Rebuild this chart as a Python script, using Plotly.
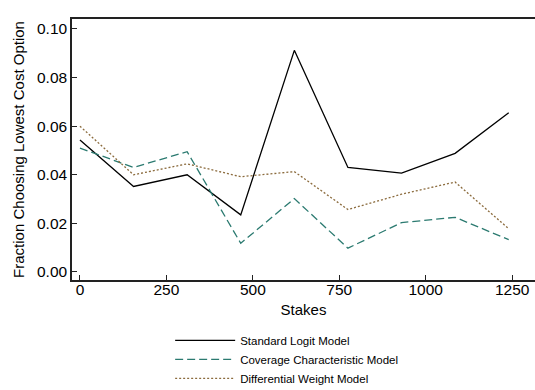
import plotly.graph_objects as go

# Stakes levels and predicted fractions choosing the lowest-cost option
stakes = [0, 155, 310, 465, 620, 775, 930, 1085, 1240]
standard_logit = [0.0543, 0.0352, 0.0400, 0.0235, 0.0912, 0.0430, 0.0407, 0.0488, 0.0655]
coverage_char = [0.0510, 0.0430, 0.0495, 0.0118, 0.0302, 0.0098, 0.0203, 0.0225, 0.0133]
diff_weight = [0.0600, 0.0400, 0.0445, 0.0392, 0.0413, 0.0257, 0.0320, 0.0370, 0.0178]

x_ticks = [0, 250, 500, 750, 1000, 1250]
y_ticks = [0.00, 0.02, 0.04, 0.06, 0.08, 0.10]

fig = go.Figure()
fig.add_trace(go.Scatter(x=stakes, y=standard_logit, mode="lines", name="Standard Logit Model",
                         line=dict(color="#000000", width=1.3)))
fig.add_trace(go.Scatter(x=stakes, y=coverage_char, mode="lines", name="Coverage Characteristic Model",
                         line=dict(color="#2b7a70", width=1.3, dash="8px,4px")))
fig.add_trace(go.Scatter(x=stakes, y=diff_weight, mode="lines", name="Differential Weight Model",
                         line=dict(color="#8b6b3d", width=1.3, dash="2px,2px")))

font_family = "Liberation Sans, Arial, sans-serif"
fig.update_layout(
    width=535, height=390,
    margin=dict(l=72, r=0, t=19, b=110, autoexpand=False),
    paper_bgcolor="white", plot_bgcolor="white",
    font=dict(family=font_family, color="#000000", size=15),
    showlegend=True,
    legend=dict(x=0.212, y=-0.176, xanchor="left", yanchor="top", orientation="v",
                font=dict(size=11.5, family=font_family), bgcolor="rgba(0,0,0,0)",
                tracegroupgap=0, itemwidth=60),
    xaxis=dict(range=[-23, 1316], tickvals=x_ticks, ticktext=[str(v) for v in x_ticks],
               showgrid=False, zeroline=False, showline=True, linecolor="#222222", linewidth=1.5,
               mirror=True, ticks="inside", ticklen=5, tickcolor="#222222",
               tickfont=dict(size=15.5), ticklabelstandoff=-5, automargin=False,
               title=dict(text="Stakes", font=dict(size=15), standoff=7)),
    yaxis=dict(range=[-0.0033, 0.1041], tickvals=y_ticks, ticktext=[f"{v:.2f}" for v in y_ticks],
               showgrid=False, zeroline=False, showline=True, linecolor="#222222", linewidth=1.5,
               ticks="inside", ticklen=5, tickcolor="#222222",
               tickfont=dict(size=15.5), automargin=False,
               title=dict(text="Fraction Choosing Lowest Cost Option", font=dict(size=15), standoff=9)),
)

fig.write_html("out.html")
